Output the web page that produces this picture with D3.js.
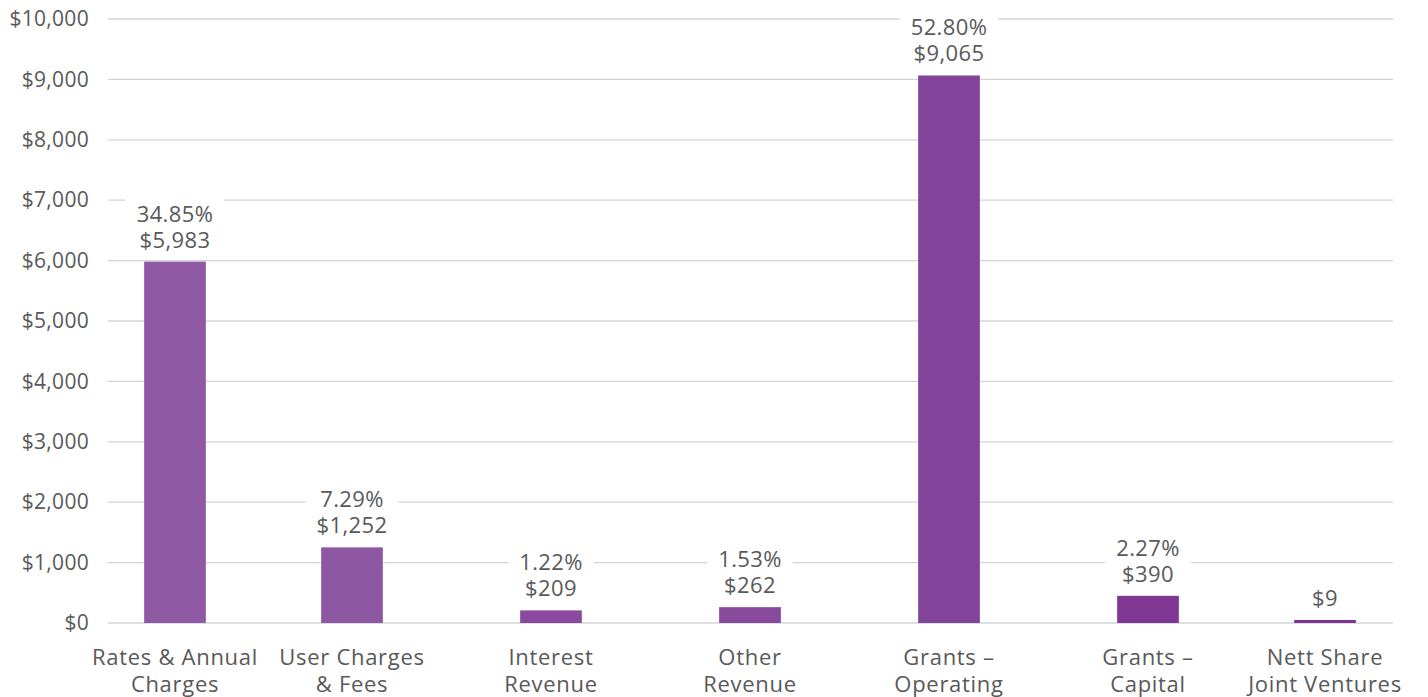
<!DOCTYPE html>
<html>
<head>
<meta charset="utf-8">
<script src="https://cdn.jsdelivr.net/npm/d3@7"></script>
<style>
  body { margin: 0; background: #fff; }
  text { font-family: "Open Sans", "Noto Sans", sans-serif; fill: #595959; }
</style>
</head>
<body>
<div id="chart"></div>
<script>
// data
const categories = [
    ["Rates & Annual", "Charges"],
    ["User Charges", "& Fees"],
    ["Interest", "Revenue"],
    ["Other", "Revenue"],
    ["Grants \u2013", "Operating"],
    ["Grants \u2013", "Capital"],
    ["Nett Share", "Joint Ventures"]
];
const barValues = [5983, 1252, 209, 262, 9065, 450, 50];
const pctLabels = ["34.85%", "7.29%", "1.22%", "1.53%", "52.80%", "2.27%", ""];
const amountLabels = ["$5,983", "$1,252", "$209", "$262", "$9,065", "$390", "$9"];
const barColors = ["#8f59a3", "#8d57a2", "#8a4b9e", "#88499c", "#84439a", "#7f3793", "#7e3493"];
const yTicks = [0, 1000, 2000, 3000, 4000, 5000, 6000, 7000, 8000, 9000, 10000];

const width = 1428, height = 697;
const margin = { top: 19, right: 35, bottom: 74, left: 108 };
const innerW = width - margin.left - margin.right;
const innerH = height - margin.top - margin.bottom;

const svg = d3.select("#chart")
    .append("svg")
    .attr("width", width)
    .attr("height", height);

const g = svg.append("g")
    .attr("transform", `translate(${margin.left}, ${margin.top})`);

const ids = categories.map((d, i) => i);

// band scale runs a bit past the plot; edge bars are pulled in
const x = d3.scaleBand()
    .domain(ids)
    .range([-54.5, 1338.5])
    .paddingInner(0.69)
    .paddingOuter(0.345);

const centerX = i => Math.min(Math.max(x(i) + x.bandwidth() / 2, 67), innerW - 68);

const y = d3.scaleLinear()
    .domain([0, 10000])
    .range([innerH, 0]);

// gridlines
g.append("g")
    .selectAll("line")
    .data(yTicks)
    .join("line")
    .attr("x1", 0)
    .attr("x2", innerW)
    .attr("y1", d => y(d))
    .attr("y2", d => y(d))
    .attr("stroke", "#d1d4da")
    .attr("stroke-width", 1.3);

// y axis labels
const yAxis = d3.axisLeft(y)
    .tickValues(yTicks)
    .tickSize(0)
    .tickPadding(19)
    .tickFormat(d => "$" + d3.format(",")(d));

g.append("g")
    .call(yAxis)
    .call(a => a.select(".domain").remove())
    .selectAll("text")
    .style("font-size", "21px")
    .style("letter-spacing", "0.3px")
    .attr("fill", "#595959");

// bars
g.selectAll(".bar")
    .data(barValues)
    .join("rect")
    .attr("class", "bar")
    .attr("x", (d, i) => centerX(i) - x.bandwidth() / 2)
    .attr("width", x.bandwidth())
    .attr("y", d => y(d))
    .attr("height", d => innerH - y(d))
    .attr("fill", (d, i) => barColors[i]);

// data labels with white boxes
const labels = g.selectAll(".dlabel")
    .data(barValues)
    .join("g")
    .attr("class", "dlabel")
    .attr("transform", (d, i) => `translate(${centerX(i)}, ${y(d)})`);

labels.each(function(d, i) {
    const lab = d3.select(this);
    const lines = [pctLabels[i], amountLabels[i]].filter(s => s);
    const bg = lab.append("rect").attr("fill", "#fff");
    const txt = lab.append("text")
        .attr("text-anchor", "middle")
        .style("font-size", "22px")
        .style("letter-spacing", "0.4px");
    lines.forEach((s, k) => {
        txt.append("tspan")
            .attr("x", 0)
            .attr("y", -14 - (lines.length - 1 - k) * 26)
            .text(s);
    });
    const bb = txt.node().getBBox();
    bg.attr("x", bb.x - 11)
        .attr("y", bb.y - 2)
        .attr("width", bb.width + 22)
        .attr("height", bb.height + 2);
});

// category labels
const cat = g.selectAll(".cat")
    .data(categories)
    .join("text")
    .attr("class", "cat")
    .attr("text-anchor", "middle")
    .style("font-size", "22px")
    .style("letter-spacing", "0.7px")
    .attr("transform", (d, i) => `translate(${centerX(i)}, ${innerH})`);

cat.selectAll("tspan")
    .data(d => d)
    .join("tspan")
    .attr("x", 0)
    .attr("y", (d, k) => 42 + k * 27)
    .text(d => d);
</script>
</body>
</html>
